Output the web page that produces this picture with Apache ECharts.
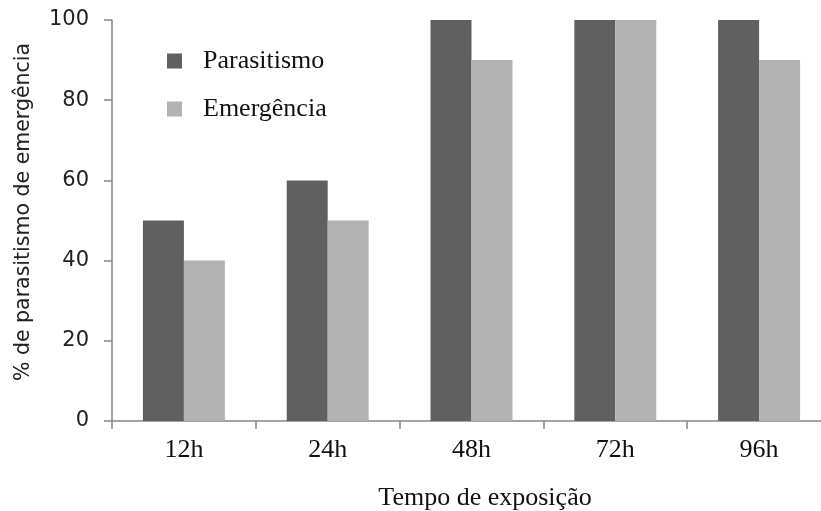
<!DOCTYPE html>
<html>
<head>
<meta charset="utf-8">
<script src="https://cdn.jsdelivr.net/npm/echarts@6/dist/echarts.min.js"></script>
<style>html,body{margin:0;padding:0;background:#fff;overflow:hidden}#c{width:831px;height:511px}</style>
</head>
<body>
<div id="c"></div>
<script>
const categories = ['12h', '24h', '48h', '72h', '96h'];
const parasitismo = [50, 60, 100, 100, 100];
const emergencia = [40, 50, 90, 100, 90];
const yTicks = [0, 20, 40, 60, 80, 100];
const seriesNames = ['Parasitismo', 'Emergência'];
const yTitle = '% de parasitismo de emergência';
const xTitle = 'Tempo de exposição';

const chart = echarts.init(document.getElementById('c'), null, {renderer: 'canvas'});
const axisGray = '#868686';
chart.setOption({
  animation: false,
  backgroundColor: '#fff',
  grid: {left: 112, top: 20, height: 401, width: 719, containLabel: false},
  legend: {
    orient: 'vertical', left: 167, top: 48, padding: 0, itemWidth: 15, itemHeight: 15, itemGap: 22,
    icon: 'rect',
    data: seriesNames,
    textStyle: {fontFamily: 'Liberation Serif', fontSize: 26, color: '#111', lineHeight: 26, padding: [0, 0, 0, 16]}
  },
  xAxis: {
    type: 'category', data: categories,
    axisLine: {lineStyle: {color: axisGray, width: 1.5}},
    axisTick: {show: true, length: 8, inside: false, alignWithLabel: false, lineStyle: {color: axisGray, width: 1.5}},
    axisLabel: {fontFamily: 'Liberation Serif', fontSize: 26, color: '#111', margin: 16}
  },
  yAxis: {
    type: 'value', min: yTicks[0], max: yTicks[yTicks.length - 1], interval: yTicks[1] - yTicks[0],
    splitLine: {show: false},
    axisLine: {show: true, lineStyle: {color: axisGray, width: 1.5}},
    axisTick: {show: true, length: 8, lineStyle: {color: axisGray, width: 1.5}},
    axisLabel: {fontFamily: 'DejaVu Sans', fontSize: 21, color: '#222', margin: 23}
  },
  graphic: [
    {type: 'text', x: 485, y: 498, style: {text: xTitle, fontFamily: 'Liberation Serif', fontSize: 26, fill: '#111', textAlign: 'center', textVerticalAlign: 'middle'}},
    {type: 'text', x: 24, y: 212, rotation: Math.PI / 2, style: {text: yTitle, fontFamily: 'DejaVu Sans', fontSize: 20.5, fill: '#222', textAlign: 'center', textVerticalAlign: 'middle'}}
  ],
  series: [
    {name: seriesNames[0], type: 'bar', data: parasitismo, barGap: '0%', barCategoryGap: '43%', itemStyle: {color: '#606060'}},
    {name: seriesNames[1], type: 'bar', data: emergencia, itemStyle: {color: '#b2b2b2'}}
  ]
});
</script>
</body>
</html>
